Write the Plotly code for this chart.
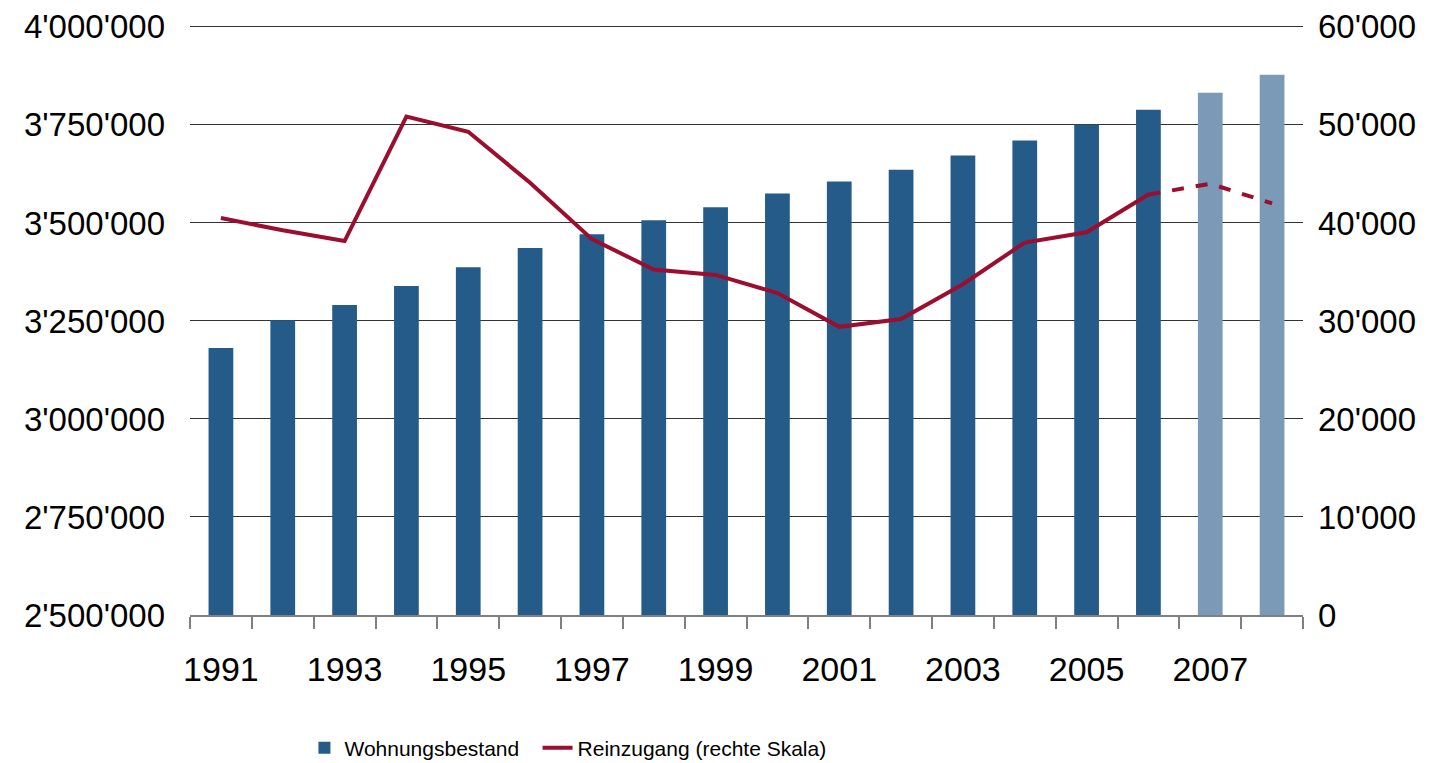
import plotly.graph_objects as go

years = list(range(1991, 2009))
bestand = [3181000, 3252000, 3291000, 3339000, 3387000, 3436000, 3471000, 3507000, 3540000,
           3575000, 3606000, 3636000, 3672000, 3710000, 3751000, 3789000, 3832000, 3878000]
reinzugang = [40500, 39250, 38150, 50850, 49300, 44100, 38350, 35250, 34700,
              32850, 29400, 30200, 33750, 38000, 39050, 42900, 44000, 42000]
n_actual = 16  # 1991-2006 actual, 2007-2008 estimates

dark_blue = "#245B88"
light_blue = "#7A9AB7"
red = "#9C0E2F"
bar_colors = [dark_blue] * n_actual + [light_blue] * (len(years) - n_actual)

fig = go.Figure()
fig.add_trace(go.Bar(x=years, y=bestand, marker=dict(color=bar_colors, line=dict(width=0)),
                     name="Wohnungsbestand", yaxis="y", legend="legend"))
fig.add_trace(go.Scatter(x=years[:n_actual], y=reinzugang[:n_actual], mode="lines",
                         line=dict(color=red, width=4), name="Reinzugang (rechte Skala)",
                         yaxis="y2", legend="legend2"))
fig.add_trace(go.Scatter(x=years[n_actual - 1:], y=reinzugang[n_actual - 1:], mode="lines",
                         line=dict(color=red, width=4, dash="dash"), showlegend=False,
                         yaxis="y2"))

xfont = dict(family="Liberation Sans, Arial, sans-serif", size=34, color="black")
yfont = dict(family="Liberation Sans, Arial, sans-serif", size=33, color="black")
legfont = dict(family="Liberation Sans, Arial, sans-serif", size=21, color="black")
fig.update_layout(
    width=1439, height=763,
    margin=dict(l=182, r=144, t=15, b=156, autoexpand=False),
    plot_bgcolor="white", paper_bgcolor="white",
    separators=".'",
    bargap=0.6,
    showlegend=True,
    legend=dict(orientation="h", x=0.206, xref="container", xanchor="left",
                y=0.030, yref="container", yanchor="middle", font=legfont),
    legend2=dict(orientation="h", x=0.368, xref="container", xanchor="left",
                 y=0.030, yref="container", yanchor="middle", font=legfont),
    xaxis=dict(range=[1990.5, 2008.5], tickmode="array", tickvals=[1991, 1993, 1995, 1997, 1999,
                                                                     2001, 2003, 2005, 2007],
               ticks="", showgrid=False, showline=True, linecolor="#808080", linewidth=1.5,
               tickfont=xfont, ticklabelstandoff=23, zeroline=False, automargin=False,
               ticklabeloverflow="allow",
               minor=dict(tickmode="linear", tick0=1990.5, dtick=1, ticks="outside", ticklen=12,
                          tickcolor="#808080", tickwidth=1.5, showgrid=False)),
    yaxis=dict(range=[2500000, 4010000], tickvals=[2500000, 2750000, 3000000, 3250000, 3500000,
                                                   3750000, 4000000],
               tickformat=",d", showgrid=True, ticklabeloverflow="allow",
               gridcolor="#333333", gridwidth=1, ticks="", showline=False, zeroline=False,
               tickfont=yfont, ticklabelstandoff=24, automargin=False),
    yaxis2=dict(range=[0, 60400], tickvals=[0, 10000, 20000, 30000, 40000, 50000, 60000],
                tickformat=",d", overlaying="y", side="right", ticklabeloverflow="allow",
                showgrid=False, ticks="", showline=False, zeroline=False,
                tickfont=yfont, ticklabelstandoff=14, automargin=False),
)

fig.write_html("out.html")
